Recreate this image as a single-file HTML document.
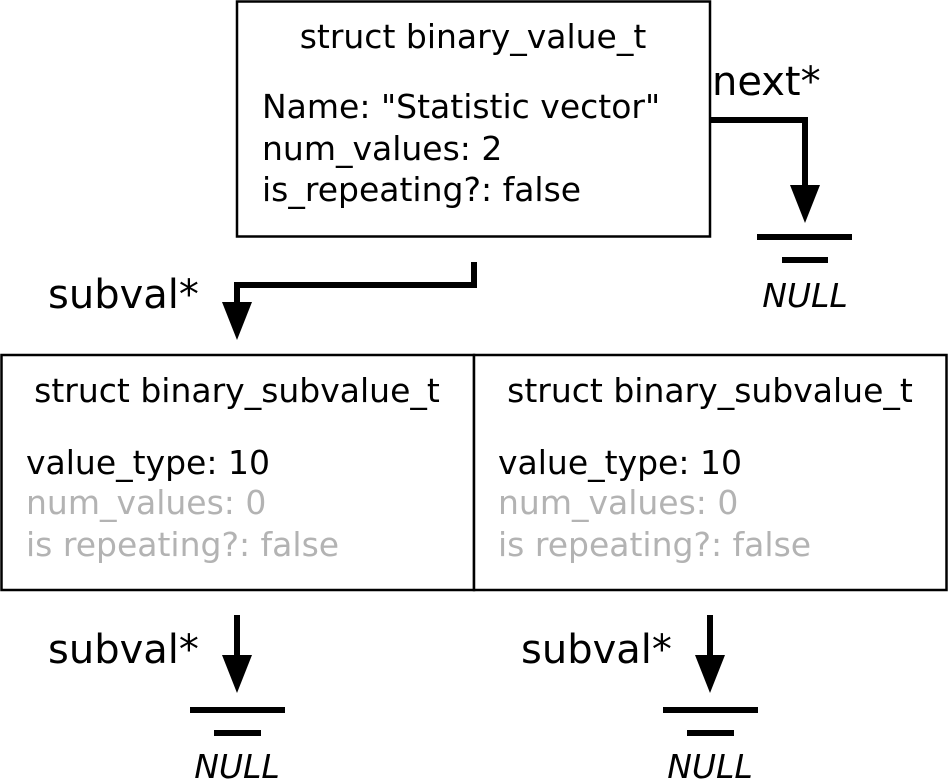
<!DOCTYPE html>
<html><head><meta charset="utf-8"><style>
html,body{margin:0;padding:0;background:#fff;}
svg{display:block;}
text{font-family:"DejaVu Sans","Liberation Sans",sans-serif;fill:#000;}
.g{fill:#b3b3b3;}
</style></head><body>
<svg width="948" height="781" viewBox="0 0 948 781" xmlns="http://www.w3.org/2000/svg">
<rect x="237" y="1.5" width="473" height="235" fill="#fff" stroke="#000" stroke-width="2.5"/>
<text x="473" y="48" font-size="33" text-anchor="middle">struct binary_value_t</text>
<text x="262" y="118" font-size="33">Name: "Statistic vector"</text>
<text x="262" y="160" font-size="33">num_values: 2</text>
<text x="262" y="201" font-size="33">is_repeating?: false</text>

<text x="712" y="95" font-size="40">next*</text>
<polyline points="710,120 805,120 805,195" fill="none" stroke="#000" stroke-width="6"/>
<polygon points="790,185 820,185 805,223" fill="#000"/>
<line x1="757" y1="237" x2="852" y2="237" stroke="#000" stroke-width="6"/>
<line x1="782" y1="260" x2="828" y2="260" stroke="#000" stroke-width="6"/>
<text x="805" y="307" font-size="33" font-style="italic" text-anchor="middle">NULL</text>

<text x="48" y="308" font-size="40">subval*</text>
<polyline points="474,262 474,285 237,285 237,310" fill="none" stroke="#000" stroke-width="6"/>
<polygon points="222,302 252,302 237,340" fill="#000"/>

<rect x="1.5" y="355" width="472.5" height="235" fill="#fff" stroke="#000" stroke-width="2.5"/>
<rect x="474" y="355" width="472.5" height="235" fill="#fff" stroke="#000" stroke-width="2.5"/>
<text x="237" y="402" font-size="33" text-anchor="middle">struct binary_subvalue_t</text>
<text x="26" y="474" font-size="33">value_type: 10</text>
<text x="26" y="514" font-size="33" class="g">num_values: 0</text>
<text x="26" y="556" font-size="33" class="g">is repeating?: false</text>
<text x="710" y="402" font-size="33" text-anchor="middle">struct binary_subvalue_t</text>
<text x="498" y="474" font-size="33">value_type: 10</text>
<text x="498" y="514" font-size="33" class="g">num_values: 0</text>
<text x="498" y="556" font-size="33" class="g">is repeating?: false</text>

<text x="48" y="663" font-size="40">subval*</text>
<line x1="237" y1="615" x2="237" y2="665" stroke="#000" stroke-width="6"/>
<polygon points="222,655 252,655 237,693" fill="#000"/>
<line x1="190" y1="710" x2="285" y2="710" stroke="#000" stroke-width="6"/>
<line x1="214" y1="733" x2="261" y2="733" stroke="#000" stroke-width="6"/>
<text x="237" y="778" font-size="33" font-style="italic" text-anchor="middle">NULL</text>

<text x="521" y="663" font-size="40">subval*</text>
<line x1="710" y1="615" x2="710" y2="665" stroke="#000" stroke-width="6"/>
<polygon points="695,655 725,655 710,693" fill="#000"/>
<line x1="663" y1="710" x2="758" y2="710" stroke="#000" stroke-width="6"/>
<line x1="687" y1="733" x2="734" y2="733" stroke="#000" stroke-width="6"/>
<text x="710" y="778" font-size="33" font-style="italic" text-anchor="middle">NULL</text>
</svg>
</body></html>
